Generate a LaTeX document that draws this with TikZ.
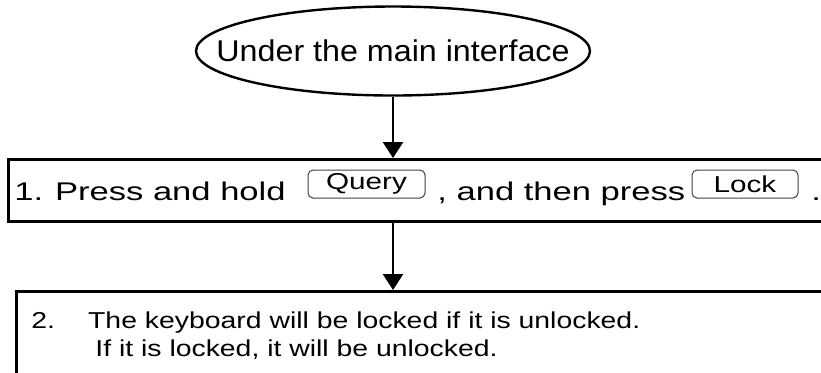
\documentclass[tikz,border=0pt]{standalone}
\usepackage{graphicx}
\usepackage{fontspec}
\setmainfont{Liberation Sans}
\usetikzlibrary{arrows.meta,positioning,shapes.geometric}
% horizontally widened text
\newcommand\widened[2]{\scalebox{#1}[1]{#2}}

\begin{document}
\begin{tikzpicture}[
		x=0.5pt, y=-0.5pt,
		oval/.style={draw, ellipse, line width=1.2pt, minimum width=197pt, minimum height=44.5pt, inner sep=0pt, font=\fontsize{15}{17}\selectfont},
		stepbox/.style={draw, rectangle, line width=1.5pt, anchor=north west, inner sep=0pt},
		keycap/.style={draw=black!75, line width=0.5pt, rounded corners=2.5pt, minimum height=14pt, inner sep=0pt, font=\fontsize{11.5}{12}\selectfont},
		linetext/.style={anchor=base west, inner sep=0pt, font=\fontsize{12.8}{14}\selectfont},
		notetext/.style={anchor=base west, inner sep=0pt, font=\fontsize{11.5}{14}\selectfont},
		flowarrow/.style={-{Triangle[width=10pt, length=8pt]}, line width=1.3pt}
	]
		\clip (0,0) rectangle (821,372);
		\node[oval] (start) at (393,51) {\makebox[0pt]{\widened{1.075}{Under the main interface}}};
		\node[stepbox, minimum width=450pt, minimum height=31pt] (step1) at (7,158) {};
		\node[stepbox, minimum width=450pt, minimum height=100pt] (step2) at (15,290) {};
		% step 1 line
		\node[linetext] (hold) at (14,200) {\widened{1.35}{1.\hspace{4.4pt}Press and hold}};
		\node[keycap, minimum width=58.5pt] (query) at (366.5,184) {\widened{1.29}{Query}};
		\node[linetext] (then) at (437,200) {\widened{1.35}{, and then press}};
		\node[keycap, minimum width=53pt] (lock) at (745,184) {\widened{1.29}{Lock}};
		\node[linetext] (stop) at (811,200) {\widened{1.35}{.}};
		% step 2 lines
		\node[notetext] (note1) at (31,328) {\widened{1.234}{2.\hspace{13.4pt}The keyboard will be locked if it is unlocked.}};
		\node[notetext] (note2) at (95,356) {\widened{1.234}{If it is locked, it will be unlocked.}};
		\draw[flowarrow] (start) -- (start |- step1.north);
		\draw[flowarrow] (step1.south -| start) -- (step2.north -| start);
	\end{tikzpicture}
\end{document}
